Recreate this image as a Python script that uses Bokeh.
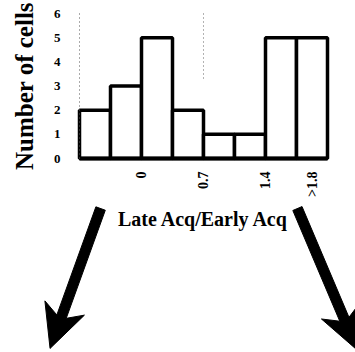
import math
from bokeh.plotting import figure
from bokeh.models import FixedTicker, Range1d
from bokeh.embed import file_html
from bokeh.resources import INLINE

# Histogram of late/early acquisition ratios
counts = [2, 3, 5, 2, 1, 1, 5, 5]
tick_positions = [2, 4, 6, 7.5]
tick_labels = ["0", "0.7", "1.4", ">1.8"]
y_ticks = [0, 1, 2, 3, 4, 5, 6]

bin_centers = [i + 0.5 for i in range(len(counts))]

SERIF = "Liberation Serif"
W, H = 355, 352
ORIGIN_PX = (79, 158)          # canvas position of (0, 0)
PX_X = 248 / 8                 # pixels per bin
PX_Y = 145 / 6                 # pixels per cell

# the frame covers the whole canvas; axes sit at fixed locations inside it
x_range = Range1d(-ORIGIN_PX[0] / PX_X, (W - ORIGIN_PX[0]) / PX_X)
y_range = Range1d(-(H - ORIGIN_PX[1]) / PX_Y, ORIGIN_PX[1] / PX_Y)

p = figure(width=W, height=H, output_backend="svg", toolbar_location=None,
           x_range=x_range, y_range=y_range,
           min_border_left=0, min_border_right=0,
           min_border_top=0, min_border_bottom=0)
p.outline_line_color = None
p.grid.visible = False
p.background_fill_color = "white"

p.vbar(x=bin_centers, top=counts, width=1.0, bottom=0,
       fill_color="white", line_color="black", line_width=3.5)

# faint dotted guide at the 0.7 boundary
p.segment(x0=[4], y0=[6], x1=[4], y1=[3.2], line_color="#666666",
          line_width=1, line_dash="1 3")

# baseline
p.segment(x0=[0], y0=[0], x1=[8], y1=[0], line_color="black", line_width=4)

# y axis
ya = p.yaxis[0]
ya.fixed_location = 0
ya.bounds = (0, 6)
ya.ticker = FixedTicker(ticks=y_ticks)
ya.axis_label = "Number of cells"
ya.axis_label_text_font = SERIF
ya.axis_label_text_font_style = "bold"
ya.axis_label_text_font_size = "25px"
ya.axis_label_text_color = "black"
ya.axis_label_standoff = 13
ya.major_label_text_font = SERIF
ya.major_label_text_font_style = "bold"
ya.major_label_text_font_size = "13px"
ya.major_label_text_color = "black"
ya.major_label_standoff = 13
ya.major_tick_line_color = None
ya.minor_tick_line_color = None
ya.axis_line_color = "#555555"
ya.axis_line_dash = "1 3"
ya.axis_line_width = 1

# x axis
xa = p.xaxis[0]
xa.fixed_location = 0
xa.bounds = (0, 8)
xa.ticker = FixedTicker(ticks=tick_positions)
xa.major_label_overrides = {t: l for t, l in zip(tick_positions, tick_labels)}
xa.major_label_orientation = math.pi / 2
xa.axis_label = "Late Acq/Early Acq"
xa.axis_label_text_font = SERIF
xa.axis_label_text_font_style = "bold"
xa.axis_label_text_font_size = "20px"
xa.axis_label_text_color = "black"
xa.axis_label_standoff = 8
xa.major_label_text_font = SERIF
xa.major_label_text_font_style = "bold"
xa.major_label_text_font_size = "14px"
xa.major_label_text_color = "black"
xa.major_label_standoff = 7
xa.major_tick_line_color = None
xa.minor_tick_line_color = None
xa.axis_line_color = None

# two diverging arrows below the histogram
arrow_starts = [(0.68, -2.07), (7.03, -2.07)]
arrow_tips = [(-0.95, -7.86), (8.97, -7.94)]
SHAFT_HALF = 5    # px
HEAD_LEN = 43     # px
HEAD_HALF = 21    # px
NOTCH = 0.72      # fraction of head length where the back meets the shaft


def offset(pt, dx_px, dy_px):
    return pt[0] + dx_px / PX_X, pt[1] + dy_px / PX_Y


arrow_xs, arrow_ys = [], []
for start, tip in zip(arrow_starts, arrow_tips):
    vx, vy = (tip[0] - start[0]) * PX_X, (tip[1] - start[1]) * PX_Y
    length = math.hypot(vx, vy)
    ux, uy = vx / length, vy / length
    nx, ny = -uy, ux
    # where the shaft edges meet the swept-back edges of the head
    t = 1 - SHAFT_HALF / HEAD_HALF
    back_j = HEAD_LEN + t * (HEAD_LEN * NOTCH - HEAD_LEN)
    pts = [
        offset(start, nx * SHAFT_HALF, ny * SHAFT_HALF),
        offset(tip, -ux * back_j + nx * SHAFT_HALF, -uy * back_j + ny * SHAFT_HALF),
        offset(tip, -ux * HEAD_LEN + nx * HEAD_HALF, -uy * HEAD_LEN + ny * HEAD_HALF),
        tip,
        offset(tip, -ux * HEAD_LEN - nx * HEAD_HALF, -uy * HEAD_LEN - ny * HEAD_HALF),
        offset(tip, -ux * back_j - nx * SHAFT_HALF, -uy * back_j - ny * SHAFT_HALF),
        offset(start, -nx * SHAFT_HALF, -ny * SHAFT_HALF),
    ]
    arrow_xs.append([q[0] for q in pts])
    arrow_ys.append([q[1] for q in pts])

p.patches(xs=arrow_xs, ys=arrow_ys, fill_color="black", line_color="black",
          line_width=1)

open("out.html", "w").write(file_html(p, INLINE))
